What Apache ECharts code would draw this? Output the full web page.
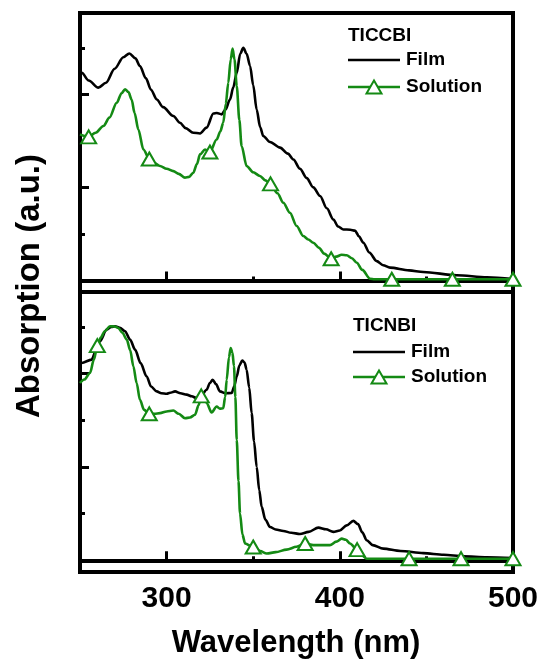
<!DOCTYPE html>
<html>
<head>
<meta charset="utf-8">
<script src="https://cdn.jsdelivr.net/npm/echarts@6/dist/echarts.min.js"></script>
<style>
html,body{margin:0;padding:0;background:#fff;}
#chart{width:545px;height:665px;}
</style>
</head>
<body>
<div id="chart"></div>
<script>
// ---------- data (wavelength nm, normalized absorption) ----------
const panelNames = ['TICCBI', 'TICNBI'];
const seriesNames = ['Film', 'Solution'];
const xTickLabels = [300, 400, 500];
const xMajorTicks = [300, 400];
const xMinorTicks = [350, 450];
const yMajorTicks = [0, 0.4, 0.8];
const yMinorTicks = [0.2, 0.6, 1.0];

const ticcbiFilm = [[250,0.90],[251,0.893],[255,0.86],[260.6,0.829],[265,0.85],[270,0.91],[275,0.96],[278.5,0.976],[282,0.955],[284.6,0.922],[288,0.87],[291,0.82],[294.3,0.778],[298,0.745],[303.9,0.707],[307.7,0.678],[311,0.655],[315.4,0.635],[319.3,0.632],[323.1,0.657],[327,0.718],[329,0.72],[331.8,0.714],[334,0.735],[336.6,0.778],[338.5,0.83],[340.5,0.893],[342.5,0.975],[344.3,1.0],[346.2,0.975],[348.2,0.922],[350,0.84],[352,0.735],[354,0.66],[355.8,0.621],[359.7,0.595],[365.5,0.571],[370,0.545],[373.2,0.52],[377,0.48],[380.9,0.44],[384.7,0.40],[388.6,0.363],[392.5,0.31],[396.3,0.262],[399,0.232],[402.1,0.219],[406,0.218],[408.8,0.214],[411,0.19],[413.6,0.162],[417,0.12],[421.3,0.083],[425,0.065],[429,0.055],[440,0.043],[448.2,0.036],[467.5,0.022],[485,0.013],[500,0.006]];

const ticcbiSolution = [[250,0.628],[255,0.617],[259,0.635],[263.5,0.664],[267,0.70],[271.2,0.764],[274,0.805],[276,0.822],[278,0.81],[279.8,0.778],[281.5,0.72],[283.7,0.649],[286.6,0.563],[290,0.522],[293,0.505],[296.2,0.492],[300,0.48],[303.9,0.470],[307,0.458],[310.6,0.442],[313,0.445],[315.4,0.463],[317.5,0.50],[319.3,0.542],[322.2,0.563],[325,0.552],[328.9,0.606],[331,0.64],[332.7,0.678],[334.2,0.76],[335.6,0.85],[337,0.95],[338.1,0.997],[339.2,0.95],[340.5,0.836],[342,0.69],[343.3,0.578],[346.2,0.492],[350,0.465],[353.9,0.449],[357,0.43],[360,0.415],[364,0.375],[367.4,0.334],[371.2,0.291],[375.1,0.234],[378.9,0.191],[381.8,0.176],[384.7,0.162],[388,0.14],[391,0.115],[395,0.093],[398,0.102],[401,0.110],[404,0.108],[407,0.095],[409.8,0.076],[413,0.045],[417.5,0.007],[420,0.005],[430,0.005],[465,0.005],[500,0.005]];
const ticcbiMarkers = [255, 290, 325, 360, 395, 430, 465, 500];

const ticnbiFilm = [[250,0.84],[251,0.846],[256.7,0.860],[259,0.895],[261.5,0.939],[265.4,0.989],[268,1.0],[270.2,1.003],[273,0.997],[276,0.982],[279,0.945],[281.8,0.903],[285,0.845],[288.5,0.788],[291,0.745],[294.3,0.724],[297,0.716],[300.1,0.714],[302,0.718],[304.9,0.724],[308,0.716],[311.6,0.710],[314.5,0.703],[317.4,0.695],[320,0.705],[323.1,0.731],[325,0.760],[326.6,0.774],[328.5,0.755],[330.8,0.724],[334,0.716],[337.6,0.717],[339,0.745],[340.5,0.788],[342,0.835],[343.7,0.856],[345,0.848],[346.2,0.817],[347.7,0.74],[349.1,0.631],[350.5,0.51],[352,0.401],[353.5,0.30],[354.9,0.229],[357,0.175],[359.7,0.143],[363,0.132],[367.4,0.126],[372,0.118],[377,0.113],[382,0.122],[387.6,0.140],[392,0.133],[396.3,0.122],[400,0.128],[404,0.150],[407.8,0.169],[410.5,0.155],[413,0.12],[415.5,0.086],[419,0.065],[425.1,0.050],[435,0.040],[448.2,0.031],[460,0.024],[471.3,0.017],[485,0.013],[500,0.010]];

const ticnbiSolution = [[250,0.76],[252.5,0.775],[255.8,0.803],[258,0.86],[260,0.92],[262,0.955],[264.3,0.982],[267.3,1.003],[270,1.002],[272.1,0.996],[274.5,0.975],[277,0.946],[279,0.90],[280.8,0.832],[282.7,0.76],[284.6,0.688],[287,0.645],[290,0.628],[293,0.628],[296.2,0.631],[300,0.638],[303.9,0.642],[307,0.628],[310.6,0.609],[313.5,0.612],[316.4,0.624],[318.5,0.665],[320,0.705],[321.5,0.695],[323.1,0.674],[326,0.634],[328.9,0.659],[330.8,0.650],[332.7,0.652],[333.8,0.70],[334.7,0.774],[336,0.87],[337,0.910],[338,0.89],[338.9,0.832],[339.7,0.70],[340.5,0.516],[341.5,0.34],[342.4,0.201],[343.8,0.11],[345.3,0.072],[350,0.057],[354,0.04],[357.8,0.029],[363,0.035],[369.3,0.046],[375,0.058],[380,0.072],[384.7,0.065],[390,0.065],[394.3,0.065],[398,0.08],[401.1,0.093],[403.5,0.088],[405.9,0.072],[410,0.046],[413,0.02],[415.5,0.007],[420,0.007],[440,0.007],[470,0.007],[500,0.007]];
const ticnbiMarkers = [260, 290, 320, 350, 380, 410, 440, 470, 500];

// ---------- styling ----------
const GREEN = '#148a14';
const FONT = "'Liberation Sans', Arial, sans-serif";
const grids = [
  {left: 80, top: 13, width: 433, height: 279},
  {left: 80, top: 292, width: 433, height: 280}
];
const panels = [
  {film: ticcbiFilm, sol: ticcbiSolution, marks: ticcbiMarkers},
  {film: ticnbiFilm, sol: ticnbiSolution, marks: ticnbiMarkers}
];

const gridOpt = [], xAxes = [], yAxes = [], series = [];
grids.forEach(function (g, i) {
  gridOpt.push(Object.assign({show: true, borderColor: '#000', borderWidth: 4, backgroundColor: 'transparent'}, g));
  const xBase = {gridIndex: i, type: 'value', min: 250, max: 500, interval: 50, position: 'bottom', splitLine: {show: false}};
  // major x ticks + labels
  xAxes.push(Object.assign({}, xBase, {
    axisLine: {show: true, lineStyle: {color: '#000', width: 4}},
    axisTick: {show: true, inside: true, length: 9, lineStyle: {color: '#000', width: 3}, customValues: xMajorTicks},
    axisLabel: {show: i === 1, customValues: xTickLabels, color: '#000', fontFamily: FONT, fontWeight: 'bold', fontSize: 30, margin: 12}
  }));
  // minor x ticks
  xAxes.push(Object.assign({}, xBase, {
    axisLine: {show: false},
    axisTick: {show: true, inside: true, length: 4, lineStyle: {color: '#000', width: 3}, customValues: xMinorTicks},
    axisLabel: {show: false}
  }));
  const yBase = {gridIndex: i, type: 'value', min: -0.05, max: 1.15, position: 'left', splitLine: {show: false}, axisLabel: {show: false}};
  yAxes.push(Object.assign({}, yBase, {
    axisLine: {show: true, lineStyle: {color: '#000', width: 4}},
    axisTick: {show: true, inside: true, length: 9, lineStyle: {color: '#000', width: 3}, customValues: yMajorTicks}
  }));
  yAxes.push(Object.assign({}, yBase, {
    axisLine: {show: false},
    axisTick: {show: true, inside: true, length: 5, lineStyle: {color: '#000', width: 3}, customValues: yMinorTicks}
  }));
  const p = panels[i];
  series.push({
    name: seriesNames[0], type: 'line', xAxisIndex: i * 2, yAxisIndex: i * 2,
    data: p.film, smooth: 0.3, smoothMonotone: 'x', showSymbol: false, symbol: 'none',
    lineStyle: {color: '#000', width: 2.6}, itemStyle: {color: '#000'}, z: 3, animation: false
  });
  series.push({
    name: seriesNames[1], type: 'line', xAxisIndex: i * 2, yAxisIndex: i * 2,
    data: p.sol, smooth: 0.3, smoothMonotone: 'x', showSymbol: true, showAllSymbol: true,
    symbol: (function (marks) { return function (v) { return marks.indexOf(v[0]) >= 0 ? 'triangle' : 'none'; }; })(p.marks),
    symbolSize: [15, 13],
    lineStyle: {color: GREEN, width: 2.6},
    itemStyle: {color: '#fff', borderColor: GREEN, borderWidth: 2},
    z: 4, animation: false
  });
});

// legend drawn as graphic (per panel)
function legendGroup(title, x, yTitle, yFilm, ySol) {
  return [
    {type: 'text', style: {x: x, y: yTitle, text: title, fill: '#000', font: 'bold 19px ' + FONT, textVerticalAlign: 'middle'}},
    {type: 'line', shape: {x1: x, y1: yFilm, x2: x + 52, y2: yFilm}, style: {stroke: '#000', lineWidth: 2.6}},
    {type: 'text', style: {x: x + 58, y: yFilm, text: seriesNames[0], fill: '#000', font: 'bold 19px ' + FONT, textVerticalAlign: 'middle'}},
    {type: 'line', shape: {x1: x, y1: ySol, x2: x + 52, y2: ySol}, style: {stroke: GREEN, lineWidth: 2.6}},
    {type: 'polygon', shape: {points: [[x + 26, ySol - 6.5], [x + 33.5, ySol + 6.5], [x + 18.5, ySol + 6.5]]}, style: {fill: '#fff', stroke: GREEN, lineWidth: 2}},
    {type: 'text', style: {x: x + 58, y: ySol, text: seriesNames[1], fill: '#000', font: 'bold 19px ' + FONT, textVerticalAlign: 'middle'}}
  ];
}

const graphics = [].concat(
  legendGroup(panelNames[0], 348, 36, 60, 87),
  legendGroup(panelNames[1], 353, 326, 352, 377),
  [
    {type: 'text', style: {x: 296, y: 643, text: 'Wavelength (nm)', fill: '#000', font: 'bold 31px ' + FONT, textAlign: 'center', textVerticalAlign: 'middle'}},
    {type: 'text', x: 30, y: 286, rotation: Math.PI / 2, style: {x: 0, y: 0, text: 'Absorption (a.u.)', fill: '#000', font: 'bold 33px ' + FONT, textAlign: 'center', textVerticalAlign: 'middle'}}
  ]
);

const chart = echarts.init(document.getElementById('chart'), null, {renderer: 'canvas'});
chart.setOption({
  animation: false,
  backgroundColor: '#fff',
  grid: gridOpt,
  xAxis: xAxes,
  yAxis: yAxes,
  series: series,
  graphic: graphics
});
</script>
</body>
</html>
